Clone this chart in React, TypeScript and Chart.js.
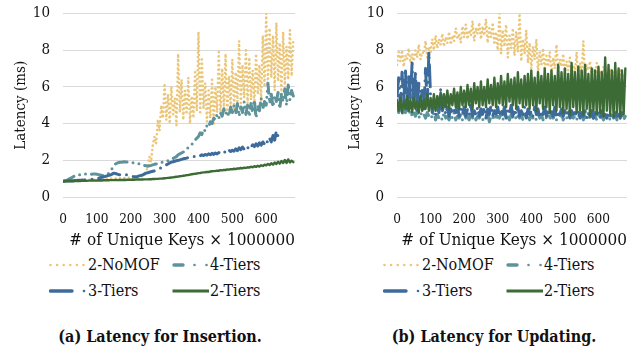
import React, { useEffect, useRef } from "react";
import { Chart, registerables } from "chart.js";

Chart.register(...registerables);

// ---------- data ----------
const KEYS = [
  0, 5, 10, 15, 20, 25, 30, 35, 40, 45, 50, 55, 60, 65, 70, 75, 80, 85, 90, 95,
  100, 105, 110, 115, 120, 125, 130, 135, 140, 145, 150, 155, 160, 165, 170, 175, 180, 185, 190, 195,
  200, 205, 210, 215, 220, 225, 230, 235, 240, 245, 250, 255, 260, 265, 270, 275, 280, 285, 290, 295,
  300, 305, 310, 315, 320, 325, 330, 335, 340, 345, 350, 355, 360, 365, 370, 375, 380, 385, 390, 395,
  400, 405, 410, 415, 420, 425, 430, 435, 440, 445, 450, 455, 460, 465, 470, 475, 480, 485, 490, 495,
  500, 505, 510, 515, 520, 525, 530, 535, 540, 545, 550, 555, 560, 565, 570, 575, 580, 585, 590, 595,
  600, 605, 610, 615, 620, 625, 630, 635, 640, 645, 650, 655, 660, 665, 670, 675, 680,
];

const SERIES_NAMES = ["2-NoMOF", "4-Tiers", "3-Tiers", "2-Tiers"];
const X_TICKS = [0, 100, 200, 300, 400, 500, 600];
const Y_TICKS = [0, 2, 4, 6, 8, 10];
const X_TITLE = "# of Unique Keys \u00d7 1000000";
const Y_TITLE = "Latency (ms)";
const CAPTIONS = ["(a) Latency for Insertion.", "(b) Latency for Updating."];

// (a) insertion
const INS_NOMOF = [
  0.86, 0.87, 0.87, 0.88, 0.88, 0.89, 0.89, 0.9, 0.9, 0.91,
  0.91, 0.92, 0.92, 0.93, 0.93, 0.94, 0.94, 0.95, 0.95, 0.96,
  0.96, 0.97, 0.97, 0.98, 0.98, 0.99, 0.99, 1.0, 1.0, 1.0,
  1.0, 1.01, 1.01, 1.02, 1.02, 1.03, 1.03, 1.04, 1.04, 1.05,
  1.05, 1.06, 1.06, 1.07, 1.08, 1.1, 1.12, 1.15, 1.25, 1.4,
  1.6, 2.2, 1.9, 2.8, 3.3, 2.9, 4.2, 3.6, 5.0, 4.3,
  6.2, 4.2, 5.6, 4.0, 6.0, 4.5, 5.4, 3.9, 7.8, 4.6,
  6.4, 4.2, 5.8, 4.5, 6.5, 4.0, 5.5, 4.3, 6.8, 4.7,
  9.0, 4.5, 7.5, 4.8, 6.2, 4.1, 5.8, 4.3, 6.4, 4.0,
  6.0, 4.6, 7.9, 4.5, 7.0, 4.8, 7.8, 4.4, 6.6, 5.0,
  7.5, 4.8, 6.8, 5.2, 8.5, 5.0, 7.2, 5.4, 8.0, 5.1,
  7.6, 5.3, 6.9, 5.0, 7.8, 5.6, 7.2, 5.2, 8.8, 6.0,
  10.0, 6.2, 9.2, 6.5, 8.8, 5.8, 9.5, 6.3, 8.4, 5.6,
  9.0, 6.1, 8.2, 6.4, 9.1, 6.6, 8.6,
];
const INS_4TIERS = [
  0.86, 0.88, 0.9, 0.95, 1.0, 1.05, 1.1, 1.15, 1.18, 1.2,
  1.22, 1.24, 1.23, 1.25, 1.24, 1.26, 1.25, 1.24, 1.26, 1.25,
  1.24, 1.22, 1.2, 1.18, 1.16, 1.15, 1.2, 1.3, 1.4, 1.55,
  1.7, 1.8, 1.85, 1.88, 1.9, 1.9, 1.92, 1.91, 1.9, 1.89,
  1.88, 1.87, 1.86, 1.85, 1.83, 1.8, 1.78, 1.75, 1.72, 1.7,
  1.68, 1.7, 1.72, 1.75, 1.78, 1.8, 1.82, 1.85, 1.88, 1.9,
  1.92, 1.95, 1.98, 2.0, 2.05, 2.1, 2.15, 2.2, 2.3, 2.35,
  2.4, 2.45, 2.5, 2.6, 2.7, 2.75, 2.85, 3.0, 3.1, 3.2,
  3.3, 3.5, 3.4, 3.7, 3.6, 3.9, 3.8, 4.1, 4.0, 4.3,
  4.2, 4.5, 4.3, 4.6, 4.4, 4.8, 4.5, 4.7, 4.4, 4.9,
  4.6, 5.0, 4.5, 5.1, 4.4, 4.9, 4.6, 5.2, 4.5, 5.0,
  4.4, 5.1, 4.6, 5.3, 4.3, 5.0, 4.7, 5.4, 4.8, 5.2,
  5.0, 6.2, 5.1, 5.6, 4.9, 5.5, 5.2, 5.7, 4.8, 5.6,
  5.2, 5.9, 5.0, 6.1, 5.3, 5.8, 5.5,
];
const INS_3TIERS = [
  0.86, 0.87, 0.87, 0.88, 0.88, 0.89, 0.89, 0.9, 0.9, 0.91,
  0.91, 0.92, 0.92, 0.93, 0.93, 0.94, 0.95, 0.96, 0.97, 0.98,
  1.0, 1.02, 1.05, 1.08, 1.1, 1.12, 1.15, 1.18, 1.2, 1.25,
  1.3, 1.28, 1.25, 1.22, 1.2, 1.18, 1.2, 1.22, 1.2, 1.18,
  1.15, 1.12, 1.1, 1.1, 1.12, 1.15, 1.18, 1.2, 1.25, 1.3,
  1.32, 1.35, 1.38, 1.4, 1.42, 1.45, 1.5, 1.55, 1.6, 1.65,
  1.7, 1.75, 1.8, 1.85, 1.9, 1.92, 1.95, 1.98, 2.0, 2.02,
  2.05, 2.08, 2.1, 2.12, 2.15, 2.18, 2.2, 2.22, 2.2, 2.25,
  2.28, 2.24, 2.3, 2.26, 2.32, 2.28, 2.35, 2.3, 2.38, 2.32,
  2.4, 2.35, 2.42, 2.38, 2.45, 2.4, 2.5, 2.42, 2.55, 2.48,
  2.55, 2.5, 2.62, 2.52, 2.68, 2.58, 2.72, 2.6, 2.75, 2.65,
  2.8, 2.7, 2.85, 2.75, 2.9, 2.78, 2.95, 2.82, 3.0, 2.88,
  3.1, 2.95, 3.2, 3.0, 3.35, 3.1, 3.6, 3.3, 3.5,
];
const INS_2TIERS = [
  0.84, 0.86, 0.85, 0.86, 0.86, 0.87, 0.86, 0.87, 0.87, 0.88,
  0.87, 0.88, 0.88, 0.89, 0.88, 0.89, 0.89, 0.9, 0.89, 0.9,
  0.9, 0.9, 0.91, 0.9, 0.91, 0.91, 0.92, 0.91, 0.92, 0.92,
  0.92, 0.93, 0.92, 0.93, 0.93, 0.93, 0.94, 0.93, 0.94, 0.94,
  0.94, 0.95, 0.94, 0.95, 0.95, 0.95, 0.96, 0.95, 0.96, 0.96,
  0.96, 0.97, 0.97, 0.98, 0.98, 0.99, 0.99, 1.0, 1.0, 1.01,
  1.02, 1.03, 1.04, 1.05, 1.06, 1.07, 1.09, 1.1, 1.11, 1.13,
  1.14, 1.16, 1.17, 1.19, 1.2, 1.22, 1.24, 1.25, 1.27, 1.28,
  1.3, 1.31, 1.33, 1.34, 1.35, 1.37, 1.36, 1.39, 1.4, 1.41,
  1.42, 1.44, 1.43, 1.46, 1.45, 1.48, 1.47, 1.5, 1.49, 1.52,
  1.51, 1.54, 1.52, 1.56, 1.55, 1.58, 1.56, 1.6, 1.58, 1.62,
  1.6, 1.65, 1.62, 1.68, 1.64, 1.7, 1.66, 1.73, 1.69, 1.76,
  1.72, 1.8, 1.74, 1.84, 1.76, 1.88, 1.8, 1.92, 1.82, 1.96,
  1.85, 2.02, 1.86, 2.05, 1.88, 1.98, 1.9,
];

// (b) updating
const UPD_NOMOF = [
  7.2, 7.9, 7.4, 8.0, 7.1, 7.7, 7.5, 8.1, 7.3, 7.8,
  7.4, 8.0, 7.6, 8.3, 7.5, 7.9, 7.8, 8.5, 7.6, 8.2,
  7.9, 8.6, 8.0, 8.8, 8.1, 8.6, 8.3, 8.9, 8.2, 8.7,
  8.4, 9.0, 8.3, 8.8, 8.5, 9.2, 8.6, 8.9, 8.4, 9.3,
  8.7, 9.4, 8.6, 9.1, 8.8, 9.6, 8.5, 9.2, 8.9, 9.5,
  8.6, 9.3, 8.8, 9.7, 8.4, 9.2, 8.7, 9.5, 8.3, 9.0,
  8.0, 10.0, 7.8, 9.1, 8.2, 9.4, 7.6, 8.8, 8.1, 9.2,
  7.7, 9.0, 7.9, 10.0, 7.4, 8.6, 7.8, 9.1, 7.3, 8.4,
  7.0, 8.2, 7.5, 8.6, 6.8, 7.9, 7.2, 8.1, 6.9, 7.7,
  7.1, 7.9, 6.7, 7.6, 7.0, 8.3, 6.8, 7.5, 7.1, 7.8,
  6.6, 7.4, 6.9, 7.6, 6.5, 7.2, 6.8, 7.9, 6.4, 7.3,
  6.7, 8.5, 6.5, 7.2, 6.9, 7.4, 6.4, 7.0, 6.6, 7.3,
  6.3, 6.9, 6.6, 7.1, 6.4, 6.8, 6.2, 7.0, 6.5, 6.8,
  6.3, 6.9, 6.5, 7.0, 6.4, 6.7, 6.6,
];
const UPD_4TIERS = [
  4.9, 4.6, 5.0, 4.5, 4.8, 4.6, 4.9, 4.5, 4.7, 4.4,
  4.6, 4.4, 4.7, 4.3, 4.6, 4.4, 4.5, 4.3, 4.6, 4.4,
  4.5, 4.3, 4.6, 4.2, 4.5, 4.3, 4.4, 4.2, 4.6, 4.3,
  4.4, 4.2, 4.5, 4.3, 4.6, 4.2, 4.4, 4.3, 4.5, 4.2,
  4.6, 4.3, 4.4, 4.2, 4.5, 4.3, 4.6, 4.2, 4.4, 4.3,
  4.5, 4.2, 4.4, 4.3, 4.6, 4.1, 4.4, 4.3, 4.5, 4.2,
  4.4, 4.3, 4.6, 4.2, 4.5, 4.3, 4.4, 4.2, 4.5, 4.3,
  4.6, 4.2, 4.4, 4.3, 4.5, 4.2, 4.6, 4.3, 4.4, 4.2,
  4.5, 4.3, 4.4, 4.2, 4.6, 4.3, 4.5, 4.2, 4.4, 4.3,
  4.5, 4.2, 4.6, 4.3, 4.4, 4.2, 4.5, 4.3, 4.6, 4.2,
  4.4, 4.3, 4.5, 4.2, 4.6, 4.3, 4.4, 4.2, 4.5, 4.3,
  4.5, 4.2, 4.4, 4.3, 4.6, 4.2, 4.5, 4.3, 4.4, 4.2,
  4.6, 4.3, 4.4, 4.2, 4.5, 4.3, 4.4, 4.2, 4.6, 4.3,
  4.5, 4.2, 4.4, 4.3, 4.5, 4.2, 4.4,
];
const UPD_3TIERS = [
  5.5, 6.5, 5.0, 6.8, 5.2, 7.0, 4.8, 6.6, 5.4, 7.3,
  5.0, 6.9, 4.7, 6.2, 5.1, 5.8, 4.8, 7.0, 5.0, 7.9,
  5.5, 4.6, 5.0, 4.5, 4.9, 4.6, 5.9, 4.7, 5.0, 4.5,
  4.9, 4.4, 4.8, 4.5, 4.9, 4.6, 5.0, 4.4, 4.8, 4.5,
  4.9, 4.4, 4.8, 4.5, 5.0, 4.4, 4.7, 4.5, 4.9, 4.4,
  4.8, 4.5, 4.9, 4.3, 4.8, 4.5, 5.0, 4.4, 4.7, 4.5,
  4.9, 4.4, 4.8, 4.5, 4.9, 4.3, 4.7, 4.5, 5.0, 4.4,
  4.8, 4.5, 4.9, 4.4, 4.7, 4.5, 4.9, 4.3, 4.8, 4.5,
  4.7, 4.4, 4.9, 4.5, 4.8, 4.3, 4.7, 4.5, 4.9, 4.4,
  4.8, 4.5, 4.7, 4.4, 4.9, 4.3, 4.7, 4.5, 4.8, 4.4,
  4.7, 4.4, 4.8, 4.3, 4.7, 4.5, 4.6, 4.4, 4.8, 4.3,
  4.6, 4.4, 4.7, 4.3, 4.6, 4.4, 4.7, 4.3, 4.6, 4.4,
  4.6, 4.3, 4.7, 4.4, 4.5, 4.3, 4.6, 4.4, 4.5, 4.3,
  4.6, 4.4, 4.5, 4.3, 4.6, 4.4, 4.5,
];
const UPD_2TIERS = [
  5.3, 4.7, 5.4, 4.6, 5.2, 4.8, 5.5, 4.7, 5.3, 4.6,
  5.4, 4.8, 5.2, 4.6, 5.5, 4.7, 5.3, 4.8, 5.6, 4.7,
  5.4, 4.8, 5.6, 4.7, 5.5, 4.9, 5.7, 4.8, 5.6, 4.9,
  5.8, 4.8, 5.6, 5.0, 5.9, 4.9, 5.7, 4.8, 6.0, 5.0,
  5.8, 4.9, 6.1, 5.0, 5.9, 4.8, 6.2, 5.1, 6.0, 4.9,
  6.3, 5.0, 6.0, 4.9, 6.4, 5.1, 6.1, 5.0, 6.5, 4.9,
  6.2, 5.1, 6.6, 5.0, 6.3, 4.9, 6.7, 5.2, 6.4, 5.0,
  6.5, 4.8, 6.8, 5.1, 6.4, 4.9, 6.6, 5.0, 6.7, 4.8,
  6.9, 5.0, 6.5, 4.7, 6.8, 5.1, 6.6, 4.8, 7.0, 4.9,
  6.7, 4.6, 6.9, 5.0, 6.6, 4.7, 7.2, 4.9, 6.8, 4.6,
  7.0, 4.8, 6.7, 4.5, 7.3, 4.9, 6.8, 4.6, 7.1, 4.7,
  6.9, 4.5, 7.2, 4.8, 6.7, 4.4, 7.0, 4.7, 6.9, 4.5,
  7.1, 4.6, 6.8, 4.4, 7.6, 4.7, 7.2, 4.5, 6.9, 4.4,
  7.3, 4.6, 7.0, 4.4, 6.9, 4.5, 7.0,
];

// ---------- styles ----------
const FONT = '"DejaVu Serif Condensed", "DejaVu Serif"';
const TEXT = "#111111";
const GRID = "#d9d9d9";
const COLORS = ["#ebc679", "#5f939c", "#3d6c9c", "#3c6b36"];
const WIDTHS = [2.6, 3, 3, 2.4];
const DASHES = [[0, 4.4], [12, 6, 0, 6, 0, 6], [22, 7, 0, 7], []];
const ORDERS = [4, 3, 2, 1];

const PANEL_X = [0, 334];
const CANVAS_W = 304;
const CANVAS_H = 255;
const PAD_RIGHT = [9, 11];

function pts(vals: number[]) {
  return vals.map((y, i) => ({ x: KEYS[i], y }));
}

function Panel({ idx, series }: { idx: number; series: number[][] }) {
  const ref = useRef<HTMLCanvasElement | null>(null);
  useEffect(() => {
    if (!ref.current) return;
    const chart = new Chart(ref.current, {
      type: "line",
      data: {
        datasets: series.map((vals, i) => ({
          label: SERIES_NAMES[i],
          data: pts(vals),
          borderColor: COLORS[i],
          backgroundColor: COLORS[i],
          borderWidth: WIDTHS[i],
          borderDash: DASHES[i],
          borderCapStyle: "round",
          borderJoinStyle: "round",
          pointRadius: 0,
          tension: 0,
          fill: false,
          order: ORDERS[i],
        })),
      },
      options: {
        animation: false,
        responsive: false,
        devicePixelRatio: 1,
        layout: { padding: { top: 13.5, right: PAD_RIGHT[idx], bottom: 0, left: 0 } },
        plugins: { legend: { display: false }, tooltip: { enabled: false } },
        scales: {
          x: {
            type: "linear",
            min: 0,
            max: 685,
            grid: { display: false },
            border: { display: false },
            afterBuildTicks: (s: any) => {
              s.ticks = X_TICKS.map((v) => ({ value: v }));
            },
            afterFit: (s: any) => {
              s.height = 58;
            },
            ticks: {
              font: { family: FONT, size: 13.5 },
              color: TEXT,
              padding: 6,
              maxRotation: 0,
              autoSkip: false,
            },
            title: {
              display: true,
              text: X_TITLE,
              align: "end",
              color: TEXT,
              font: { family: FONT, size: 17, lineHeight: 1.2 },
              padding: { top: 0, bottom: 4 },
            },
          },
          y: {
            min: 0,
            max: 10,
            grid: { color: GRID, drawTicks: false, lineWidth: 1 },
            border: { display: false },
            afterBuildTicks: (s: any) => {
              s.ticks = Y_TICKS.map((v) => ({ value: v }));
            },
            afterFit: (s: any) => {
              s.width = 63;
              s.paddingTop = 0;
            },
            ticks: { font: { family: FONT, size: 15 }, color: TEXT, padding: 13 },
            title: {
              display: true,
              text: Y_TITLE,
              color: TEXT,
              font: { family: FONT, size: 15, lineHeight: 1.2 },
              padding: { top: 12, bottom: 0 },
            },
          },
        },
      } as any,
    } as any);
    return () => chart.destroy();
  }, []);

  const px = PANEL_X[idx];
  const rowY = [265, 291];
  const legendItems = [
    { col: 0, row: 0, name: SERIES_NAMES[0] },
    { col: 1, row: 0, name: SERIES_NAMES[1] },
    { col: 0, row: 1, name: SERIES_NAMES[2] },
    { col: 1, row: 1, name: SERIES_NAMES[3] },
  ];
  const colLine = [49, 172];
  const colText = [88, 210];

  const sample = (name: string) => {
    const i = SERIES_NAMES.indexOf(name);
    const c = COLORS[i];
    if (i === 0)
      return (
        <line x1={1.5} y1={5} x2={34.5} y2={5} stroke={c} strokeWidth={2.6} strokeLinecap="round" strokeDasharray="0 6.6" />
      );
    if (i === 1)
      return (
        <g>
          <line x1={2} y1={5} x2={11} y2={5} stroke={c} strokeWidth={3.4} strokeLinecap="round" />
          <circle cx={22.5} cy={5} r={1.3} fill={c} />
          <circle cx={34.5} cy={5} r={1.3} fill={c} />
        </g>
      );
    if (i === 2)
      return (
        <g>
          <line x1={1.5} y1={5} x2={23} y2={5} stroke={c} strokeWidth={3.4} strokeLinecap="round" />
          <circle cx={35} cy={5} r={1.3} fill={c} />
        </g>
      );
    return <line x1={0.5} y1={5} x2={37} y2={5} stroke={c} strokeWidth={3} strokeLinecap="butt" />;
  };

  return (
    <>
      <div style={{ position: "absolute", left: px, top: 0, width: CANVAS_W, height: CANVAS_H }}>
        <canvas ref={ref} width={CANVAS_W} height={CANVAS_H} style={{ display: "block" }} />
      </div>
      {legendItems.map((it) => (
        <React.Fragment key={it.name}>
          <svg
            width={40}
            height={10}
            style={{ position: "absolute", left: px + colLine[it.col], top: rowY[it.row] - 5 }}
          >
            {sample(it.name)}
          </svg>
          <div
            style={{
              position: "absolute",
              left: px + colText[it.col],
              top: rowY[it.row] - 10,
              height: 20,
              lineHeight: "20px",
              fontFamily: FONT,
              fontSize: 16,
              color: TEXT,
              whiteSpace: "nowrap",
            }}
          >
            {it.name}
          </div>
        </React.Fragment>
      ))}
      <div
        style={{
          position: "absolute",
          left: px + 160 - 150,
          width: 300,
          top: 326,
          height: 22,
          lineHeight: "22px",
          textAlign: "center",
          fontFamily: FONT,
          fontWeight: "bold",
          fontSize: 16,
          color: TEXT,
          whiteSpace: "nowrap",
        }}
      >
        {CAPTIONS[idx]}
      </div>
    </>
  );
}

export default function App() {
  return (
    <div
      style={{
        position: "absolute",
        left: 0,
        top: 0,
        width: 638,
        height: 351,
        background: "#ffffff",
        overflow: "hidden",
      }}
    >
      <Panel idx={0} series={[INS_NOMOF, INS_4TIERS, INS_3TIERS, INS_2TIERS]} />
      <Panel idx={1} series={[UPD_NOMOF, UPD_4TIERS, UPD_3TIERS, UPD_2TIERS]} />
    </div>
  );
}
